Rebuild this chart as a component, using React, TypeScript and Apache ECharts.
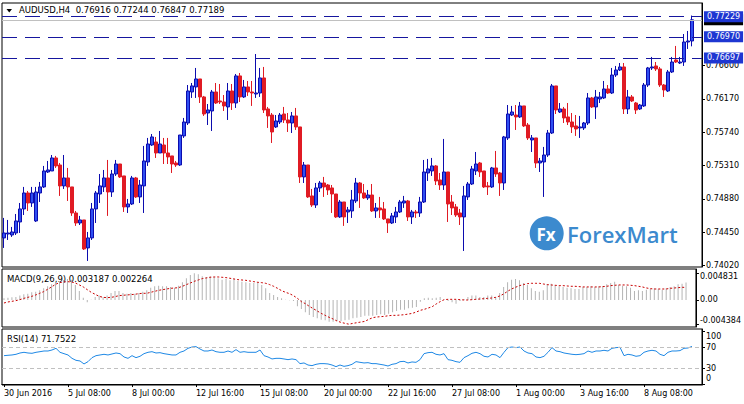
import React, { useEffect, useRef } from "react";
import * as echarts from "echarts";

const symbolName = "AUDUSD,H4";
const tickLabels = ["30 Jun 2016", "5 Jul 08:00", "8 Jul 00:00", "12 Jul 16:00", "15 Jul 08:00", "20 Jul 00:00", "22 Jul 16:00", "27 Jul 08:00", "1 Aug 00:00", "3 Aug 16:00", "8 Aug 08:00"];
const priceTicks = [0.7402, 0.7445, 0.7488, 0.7531, 0.7574, 0.7617, 0.766];
const macdTicks = [0.004831, 0, -0.004384];
const rsiTicks = [100, 70, 30, 0];
const levelPrices = [0.77229, 0.7697, 0.76697];
const bidPrice = 0.77189;

const openP = [
  0.74375,0.74426,0.74413,0.74439,0.74581,0.74749,0.74955,0.74826,0.74594,0.74955,
  0.75033,0.75226,0.75239,0.75407,0.75316,0.75046,0.75149,0.75033,0.74697,0.74568,
  0.74607,0.74246,0.74375,0.74749,0.74942,0.75033,0.75149,0.74968,0.75200,0.75329,
  0.75175,0.74775,0.74813,0.75149,0.74904,0.75046,0.75355,0.75574,0.75613,0.75471,
  0.75574,0.75471,0.75433,0.75342,0.75316,0.75691,0.75858,0.76258,0.76323,0.76426,
  0.76194,0.75987,0.76013,0.76258,0.76142,0.76129,0.76065,0.76271,0.76116,0.76465,
  0.76194,0.76323,0.76258,0.76232,0.76245,0.76439,0.76039,0.75961,0.75807,0.75871,
  0.75974,0.75897,0.75858,0.75949,0.75807,0.75162,0.75316,0.74917,0.74800,0.75020,
  0.75084,0.75058,0.75020,0.74942,0.74646,0.74839,0.74710,0.74723,0.74852,0.75084,
  0.74955,0.74891,0.74929,0.74723,0.74762,0.74749,0.74620,0.74568,0.74646,0.74710,
  0.74826,0.74852,0.74646,0.74710,0.74697,0.74839,0.75213,0.75239,0.75304,0.75123,
  0.75058,0.75226,0.74839,0.74775,0.74697,0.74646,0.74904,0.75071,0.75239,0.75342,
  0.75239,0.75046,0.75033,0.75278,0.75213,0.75084,0.75665,0.75961,0.75961,0.75936,
  0.76078,0.75832,0.75639,0.75665,0.75342,0.75355,0.75445,0.75729,0.76336,0.76000,
  0.76039,0.75936,0.75871,0.75820,0.75794,0.75794,0.75858,0.76181,0.76065,0.76168,
  0.76181,0.76297,0.76245,0.76477,0.76542,0.76581,0.76039,0.76194,0.76116,0.76039,
  0.76078,0.76348,0.76568,0.76594,0.76555,0.76348,0.76271,0.76516,0.76671,0.76632,
  0.76645,0.76903,0.76916
];
const highP = [
  0.74633,0.74607,0.74517,0.74684,0.74826,0.75033,0.74981,0.75033,0.75033,0.75097,
  0.75304,0.75368,0.75445,0.75433,0.75342,0.75445,0.75278,0.75033,0.74723,0.74659,
  0.74607,0.74452,0.74826,0.74981,0.75200,0.75252,0.75381,0.75252,0.75381,0.75329,
  0.75175,0.74878,0.75175,0.75162,0.75123,0.75562,0.75665,0.75716,0.75678,0.75755,
  0.75665,0.75665,0.75433,0.75368,0.75703,0.75923,0.76348,0.76374,0.76568,0.76426,
  0.76207,0.76103,0.76284,0.76374,0.76361,0.76219,0.76374,0.76361,0.76490,0.76503,
  0.76413,0.76400,0.76400,0.76748,0.76568,0.76581,0.76065,0.75987,0.75961,0.75987,
  0.76065,0.75987,0.76000,0.76052,0.75807,0.75355,0.75316,0.75007,0.75084,0.75110,
  0.75162,0.75071,0.75058,0.74942,0.74865,0.74839,0.74775,0.74994,0.75149,0.75097,
  0.75071,0.74994,0.75071,0.74826,0.74904,0.74839,0.74620,0.74697,0.74775,0.74865,
  0.74917,0.74865,0.74736,0.74736,0.74904,0.75381,0.75394,0.75407,0.75316,0.75213,
  0.75652,0.75226,0.74929,0.74813,0.74749,0.75046,0.75097,0.75304,0.75484,0.75355,
  0.75239,0.75097,0.75291,0.75497,0.75226,0.75691,0.76090,0.76078,0.76090,0.76129,
  0.76078,0.75858,0.75703,0.75665,0.75407,0.75549,0.75768,0.76361,0.76336,0.76116,
  0.76065,0.76116,0.75987,0.75961,0.75949,0.75871,0.76245,0.76194,0.76284,0.76258,
  0.76400,0.76348,0.76568,0.76594,0.76632,0.76632,0.76284,0.76219,0.76129,0.76103,
  0.76374,0.76581,0.76710,0.76645,0.76581,0.76361,0.76542,0.76710,0.76852,0.76710,
  0.77006,0.77045,0.77244
];
const lowP = [
  0.74246,0.74349,0.74388,0.74413,0.74439,0.74671,0.74723,0.74775,0.74581,0.74839,
  0.75020,0.75213,0.75239,0.75278,0.74917,0.75007,0.74852,0.74659,0.74530,0.74542,
  0.74220,0.74078,0.74349,0.74568,0.74826,0.74968,0.74659,0.74904,0.75175,0.75149,
  0.74710,0.74697,0.74800,0.74891,0.74826,0.74697,0.75304,0.75562,0.75407,0.75471,
  0.75329,0.75329,0.75213,0.75291,0.75304,0.75665,0.75832,0.76181,0.76181,0.76116,
  0.75949,0.75832,0.75755,0.76103,0.76103,0.76013,0.75897,0.76026,0.76052,0.76129,
  0.76181,0.76207,0.76078,0.76181,0.76194,0.75987,0.75794,0.75600,0.75794,0.75845,
  0.75858,0.75742,0.75729,0.75768,0.75084,0.75084,0.74891,0.74775,0.74762,0.74968,
  0.74904,0.74929,0.74697,0.74633,0.74633,0.74530,0.74568,0.74633,0.74826,0.74762,
  0.74878,0.74865,0.74710,0.74633,0.74633,0.74607,0.74439,0.74555,0.74568,0.74697,
  0.74762,0.74594,0.74555,0.74633,0.74646,0.74826,0.75110,0.75175,0.75058,0.74994,
  0.74994,0.74581,0.74671,0.74646,0.74542,0.74207,0.74865,0.75058,0.75187,0.75162,
  0.75020,0.74929,0.75020,0.75162,0.74917,0.74994,0.75639,0.75949,0.75768,0.75923,
  0.75807,0.75639,0.75484,0.75278,0.75226,0.74904,0.75420,0.75716,0.75974,0.75987,
  0.75858,0.75832,0.75729,0.75691,0.75665,0.75768,0.75832,0.76052,0.75910,0.76116,
  0.76168,0.76232,0.76232,0.76452,0.76529,0.75974,0.75974,0.76129,0.75974,0.76026,
  0.76065,0.76323,0.76542,0.76529,0.76323,0.76194,0.76258,0.76503,0.76632,0.76619,
  0.76594,0.76813,0.76847
];
const closeP = [
  0.74439,0.74439,0.74452,0.74594,0.74749,0.74955,0.74826,0.74955,0.74968,0.75033,
  0.75239,0.75252,0.75407,0.75304,0.75046,0.75149,0.75033,0.74697,0.74568,0.74607,
  0.74233,0.74375,0.74749,0.74955,0.75046,0.75149,0.74968,0.75200,0.75329,0.75162,
  0.74775,0.74813,0.75149,0.74904,0.75058,0.75368,0.75587,0.75678,0.75471,0.75587,
  0.75471,0.75420,0.75329,0.75316,0.75703,0.75871,0.76271,0.76336,0.76426,0.76194,
  0.75974,0.76026,0.76258,0.76116,0.76129,0.76078,0.76271,0.76116,0.76465,0.76194,
  0.76323,0.76258,0.76245,0.76245,0.76439,0.76026,0.75949,0.75742,0.75884,0.75961,
  0.75897,0.75858,0.75949,0.75807,0.75162,0.75316,0.74904,0.74800,0.75020,0.75084,
  0.75033,0.74994,0.74942,0.74646,0.74839,0.74646,0.74736,0.74865,0.75084,0.74955,
  0.74891,0.74929,0.74723,0.74762,0.74736,0.74620,0.74568,0.74659,0.74710,0.74839,
  0.74852,0.74646,0.74710,0.74697,0.74839,0.75226,0.75265,0.75304,0.75110,0.75058,
  0.75226,0.74813,0.74762,0.74671,0.74646,0.74917,0.75071,0.75265,0.75329,0.75226,
  0.75033,0.75033,0.75278,0.75200,0.75084,0.75678,0.75974,0.76000,0.75936,0.76078,
  0.75820,0.75665,0.75665,0.75342,0.75368,0.75445,0.75729,0.76336,0.76026,0.76039,
  0.75923,0.75871,0.75807,0.75781,0.75807,0.75858,0.76181,0.76065,0.76194,0.76194,
  0.76297,0.76245,0.76477,0.76542,0.76581,0.76039,0.76194,0.76142,0.76026,0.76090,
  0.76348,0.76568,0.76581,0.76555,0.76348,0.76284,0.76516,0.76645,0.76645,0.76645,
  0.76903,0.76916,0.77189
];
const macdMain = [
  0.00030,0.00042,0.00048,0.00054,0.00079,0.00103,0.00115,0.00139,0.00151,0.00175,
  0.00211,0.00248,0.00284,0.00320,0.00344,0.00362,0.00381,0.00368,0.00272,0.00163,
  0.00042,-0.00042,0.00006,0.00054,0.00079,0.00054,0.00079,0.00127,0.00163,0.00163,
  0.00127,0.00115,0.00127,0.00115,0.00127,0.00151,0.00175,0.00223,0.00248,0.00260,
  0.00248,0.00248,0.00236,0.00223,0.00260,0.00320,0.00393,0.00453,0.004831,0.00465,
  0.00429,0.00417,0.00429,0.00417,0.00393,0.00368,0.00381,0.00356,0.00381,0.00344,
  0.00332,0.00320,0.00308,0.00308,0.00320,0.00272,0.00211,0.00127,0.00091,0.00054,
  0.00030,0.00006,-0.00006,-0.00018,-0.00115,-0.00163,-0.00223,-0.00272,-0.00308,-0.00332,
  -0.00356,-0.00368,-0.00393,-0.00393,-0.00381,-0.00381,-0.00368,-0.00356,-0.00332,-0.00320,
  -0.00308,-0.00284,-0.00284,-0.00284,-0.00272,-0.00260,-0.00272,-0.00248,-0.00223,-0.00199,
  -0.00175,-0.00175,-0.00151,-0.00139,-0.00127,-0.00030,0.00030,0.00042,0.00030,0.00042,
  0.00054,0.00006,-0.00018,-0.00042,-0.00066,-0.00018,0.00018,0.00054,0.00079,0.00079,
  0.00054,0.00054,0.00079,0.00079,0.00054,0.00127,0.00236,0.00320,0.00368,0.00381,
  0.00356,0.00308,0.00272,0.00211,0.00163,0.00151,0.00175,0.00284,0.00296,0.00272,
  0.00248,0.00236,0.00223,0.00211,0.00199,0.00199,0.00236,0.00236,0.00248,0.00236,
  0.00248,0.00248,0.00284,0.00308,0.00332,0.00272,0.00260,0.00248,0.00223,0.00163,
  0.00175,0.00163,0.00187,0.00199,0.00211,0.00199,0.00187,0.00211,0.00236,0.00248,
  0.00284,0.00296,0.003187
];
const macdSignal = [
  -0.00054,-0.00036,-0.00024,-0.00012,0.00006,0.00030,0.00048,0.00066,0.00091,0.00121,
  0.00151,0.00193,0.00236,0.00284,0.00314,0.00326,0.00332,0.00326,0.00308,0.00272,
  0.00236,0.00187,0.00139,0.00103,0.00066,0.00048,0.00042,0.00048,0.00060,0.00079,
  0.00085,0.00091,0.00097,0.00103,0.00115,0.00121,0.00121,0.00139,0.00157,0.00175,
  0.00187,0.00199,0.00211,0.00217,0.00223,0.00248,0.00278,0.00308,0.00338,0.00362,
  0.00387,0.00399,0.00411,0.00417,0.00417,0.00411,0.00405,0.00393,0.00381,0.00368,
  0.00362,0.00356,0.00344,0.00332,0.00320,0.00314,0.00302,0.00278,0.00248,0.00211,
  0.00169,0.00139,0.00115,0.00079,0.00030,-0.00030,-0.00066,-0.00115,-0.00157,-0.00199,
  -0.00242,-0.00278,-0.00314,-0.00344,-0.00381,-0.00405,-0.00423,-0.004384,-0.00423,-0.00411,
  -0.00399,-0.00387,-0.00350,-0.00320,-0.00308,-0.00302,-0.00296,-0.00284,-0.00278,-0.00278,
  -0.00272,-0.00266,-0.00254,-0.00242,-0.00217,-0.00187,-0.00169,-0.00145,-0.00121,-0.00072,
  -0.00030,0.00006,0.00012,0.00012,0.00012,0.00006,0.0,0.0,0.00006,0.00012,
  0.00018,0.00024,0.00030,0.00036,0.00048,0.00072,0.00109,0.00157,0.00199,0.00230,
  0.00260,0.00278,0.00296,0.00302,0.00302,0.00302,0.00290,0.00278,0.00272,0.00266,
  0.00260,0.00260,0.00254,0.00248,0.00248,0.00242,0.00236,0.00236,0.00236,0.00236,
  0.00236,0.00242,0.00248,0.00260,0.00266,0.00272,0.00272,0.00272,0.00266,0.00260,
  0.00248,0.00236,0.00218,0.00205,0.00199,0.00199,0.00199,0.00199,0.00211,0.00217,
  0.00223,0.00230,0.002264
];
const rsiValues = [
  54.1,54.8,55.4,56.7,59.2,60.5,59.2,58.6,60.5,61.7,
  63.0,63.0,64.9,68.1,60.5,57.9,55.4,49.0,45.2,44.0,
  38.3,42.7,50.3,54.1,55.4,56.7,55.4,57.3,59.2,57.9,
  51.6,49.0,54.1,50.3,52.9,57.9,60.5,61.7,59.2,59.8,
  57.9,56.7,55.4,55.4,60.5,63.0,68.1,70.6,71.3,66.8,
  63.0,63.0,64.9,61.7,60.5,60.5,63.0,60.5,65.6,60.5,
  61.7,60.5,60.5,60.5,64.9,54.1,51.6,47.8,49.0,49.0,
  47.8,46.5,47.8,46.5,38.9,40.2,36.3,35.1,37.6,38.9,
  38.9,38.3,36.3,33.2,36.3,33.8,35.1,37.6,42.7,41.4,
  40.2,40.8,38.9,38.9,37.6,36.3,34.4,37.6,38.9,42.7,
  43.3,40.2,42.1,41.4,46.5,57.9,59.8,60.5,56.7,55.4,
  57.9,46.5,45.2,42.7,41.4,50.3,54.1,58.6,60.5,57.9,
  52.9,51.6,56.7,55.4,50.3,60.5,69.4,70.6,69.4,70.6,
  63.0,59.2,57.9,51.6,50.3,52.9,60.5,69.4,63.0,61.7,
  59.2,57.9,56.7,56.0,56.7,57.9,63.0,60.5,63.0,63.0,
  64.3,63.0,68.1,69.4,70.0,54.1,56.7,55.4,52.9,54.1,
  60.5,63.0,64.3,63.0,56.7,54.1,60.5,63.0,63.0,63.7,
  68.1,68.7,71.7522
];

const MONTHS = ["Jan", "Feb", "Mar", "Apr", "May", "Jun", "Jul", "Aug", "Sep", "Oct", "Nov", "Dec"];
function buildCategories(n: number): string[] {
  const out: string[] = [];
  let t = Date.UTC(2016, 5, 30, 16);
  while (out.length < n) {
    const d = new Date(t);
    const wd = d.getUTCDay();
    if (wd !== 0 && wd !== 6) {
      const hh = String(d.getUTCHours()).padStart(2, "0");
      out.push(`${d.getUTCDate()} ${MONTHS[d.getUTCMonth()]} ${hh}:00`);
    }
    t += 4 * 3600 * 1000;
  }
  return out;
}

const FONT = "DejaVu Sans";

export default function App() {
  const ref = useRef<HTMLDivElement>(null);
  useEffect(() => {
    if (!ref.current) return;
    const chart = echarts.init(ref.current, undefined, { renderer: "svg" });
    const categories = buildCategories(openP.length + 2);
    const candles = openP.map((o, i) => [o, closeP[i], lowP[i], highP[i]]);
    const last = openP.length - 1;
    const tagLabel = (bg: string) => ({
      show: true,
      position: "end",
      distance: 2,
      formatter: (p: any) => Number(p.value).toFixed(5),
      color: "#fff",
      backgroundColor: bg,
      fontSize: 8,
      fontFamily: FONT,
      padding: [2, 3, 1, 3],
    });
    const levelLine = (value: number, color: string, type: any, bg: string) => ({
      type: "line",
      xAxisIndex: 0,
      yAxisIndex: 0,
      data: [],
      silent: true,
      markLine: {
        silent: true,
        precision: 5,
        symbol: ["none", "none"],
        lineStyle: { color, type, width: 1 },
        label: tagLabel(bg),
        data: [{ yAxis: value }],
      },
    });
    const xAxisFor = (i: number) => ({
      type: "category",
      gridIndex: i,
      data: categories,
      boundaryGap: true,
      axisLine: { show: i === 2, lineStyle: { color: "#000" } },
      axisTick: { show: i === 2, interval: 15, alignWithLabel: true, length: 3, lineStyle: { color: "#000" } },
      axisLabel: {
        show: i === 2,
        interval: 15,
        formatter: (_v: string, idx: number) => tickLabels[Math.round(idx / 16)] ?? "",
        align: "left",
        fontSize: 8,
        fontFamily: FONT,
        color: "#000",
        margin: 4,
      },
      splitLine: { show: false },
    });
    const grid = (top: number, height: number) => ({
      left: 2, top, width: 700, height, show: true, borderColor: "#000", borderWidth: 1, backgroundColor: "#fff",
    });
    const option: any = {
      animation: false,
      backgroundColor: "#fff",
      textStyle: { fontFamily: FONT },
      grid: [grid(3, 264), grid(269, 58), grid(329, 56)],
      xAxis: [xAxisFor(0), xAxisFor(1), xAxisFor(2)],
      yAxis: [
        {
          type: "value", gridIndex: 0, position: "right", min: 0.74, max: 0.77406,
          axisLine: { show: true, lineStyle: { color: "#000" } },
          axisTick: { show: true, customValues: priceTicks, length: 3, lineStyle: { color: "#000" } },
          axisLabel: { customValues: priceTicks, formatter: (v: number) => v.toFixed(5), fontSize: 8, fontFamily: FONT, color: "#000", margin: 4 },
          splitLine: { show: false },
        },
        {
          type: "value", gridIndex: 1, position: "right", min: -0.00489, max: 0.00561,
          axisLine: { show: true, lineStyle: { color: "#000" } },
          axisTick: { show: true, customValues: macdTicks, length: 3, lineStyle: { color: "#000" } },
          axisLabel: {
            customValues: macdTicks,
            formatter: (v: number) => (v === 0 ? "{m|0.00}" : v > 0 ? `{t|${v.toFixed(6)}}` : `{b|${v.toFixed(6)}}`),
            fontSize: 8, fontFamily: FONT, color: "#000", margin: 4,
            rich: { t: { padding: [7, 0, 0, 0], fontSize: 8 }, m: { fontSize: 8 }, b: { padding: [0, 0, 8, 0], fontSize: 8 } },
          },
          splitLine: { show: false },
        },
        {
          type: "value", gridIndex: 2, position: "right", min: -1.8, max: 104.9,
          axisLine: { show: true, lineStyle: { color: "#000" } },
          axisTick: { show: true, customValues: rsiTicks, length: 3, lineStyle: { color: "#000" } },
          axisLabel: {
            customValues: rsiTicks,
            formatter: (v: number) => (v === 100 ? "{t|100}" : v === 0 ? "{b|0}" : `{m|${v}}`),
            fontSize: 8, fontFamily: FONT, color: "#000", margin: 4,
            rich: { t: { padding: [9, 0, 0, 0], fontSize: 8 }, m: { fontSize: 8 }, b: { padding: [0, 0, 12, 0], fontSize: 8 } },
          },
          splitLine: { show: false },
        },
      ],
      series: [
        levelLine(bidPrice, "#c0c0c0", "solid", "#000"),
        ...levelPrices.map((p) => levelLine(p, "#16169e", [15, 8], "#1e36d2")),
        {
          type: "candlestick",
          xAxisIndex: 0,
          yAxisIndex: 0,
          data: candles,
          barWidth: 3,
          itemStyle: { color: "#2f4ff2", color0: "#e01b24", borderColor: "#0c0cae", borderColor0: "#e01b24", borderWidth: 1 },
        },
        {
          type: "bar",
          xAxisIndex: 1,
          yAxisIndex: 1,
          data: macdMain,
          barWidth: 1,
          itemStyle: { color: "#b4b4b4" },
        },
        {
          type: "line",
          xAxisIndex: 1,
          yAxisIndex: 1,
          data: macdSignal,
          symbol: "none",
          lineStyle: { color: "#c80000", type: [2, 2], width: 1 },
        },
        {
          type: "line",
          xAxisIndex: 2,
          yAxisIndex: 2,
          data: rsiValues,
          symbol: "none",
          lineStyle: { color: "#1e88e5", width: 1 },
          markLine: {
            silent: true,
            symbol: ["none", "none"],
            label: { show: false },
            lineStyle: { color: "#c0c0c0", type: [4, 3], width: 1 },
            data: [{ yAxis: 70 }, { yAxis: 30 }],
          },
        },
      ],
      graphic: [
        { type: "polygon", shape: { points: [[6.5, 9], [12, 9], [9.25, 12.5]] }, style: { fill: "#000" } },
        {
          type: "text", x: 19, y: 10,
          style: {
            text: `${symbolName}  ${openP[last].toFixed(5)} ${highP[last].toFixed(5)} ${lowP[last].toFixed(5)} ${closeP[last].toFixed(5)}`,
            font: `8.5px "${FONT}"`, fill: "#000", verticalAlign: "middle",
          },
        },
        {
          type: "text", x: 7, y: 278.5,
          style: { text: `MACD(9,26,9) ${macdMain[last].toFixed(6)} ${macdSignal[last].toFixed(6)}`, font: `8.5px "${FONT}"`, fill: "#000", verticalAlign: "middle" },
        },
        {
          type: "text", x: 7, y: 338.5,
          style: { text: `RSI(14) ${rsiValues[last].toFixed(4)}`, font: `8.5px "${FONT}"`, fill: "#000", verticalAlign: "middle" },
        },
        { type: "circle", shape: { cx: 546.7, cy: 233.3, r: 17 }, style: { fill: "#3c8ace" } },
        {
          type: "text", x: 546, y: 234,
          style: { text: "Fx", font: `bold 17px "Open Sans"`, fill: "#fff", align: "center", verticalAlign: "middle" },
        },
        {
          type: "text", x: 567, y: 234,
          style: { text: "ForexMart", font: `600 22px "Open Sans"`, fill: "#3c8ace", verticalAlign: "middle" },
        },
      ],
    };
    chart.setOption(option);
    return () => chart.dispose();
  }, []);
  return (
    <div
      ref={ref}
      style={{ position: "fixed", left: 0, top: 0, width: 744, height: 404, background: "#fff" }}
    />
  );
}
